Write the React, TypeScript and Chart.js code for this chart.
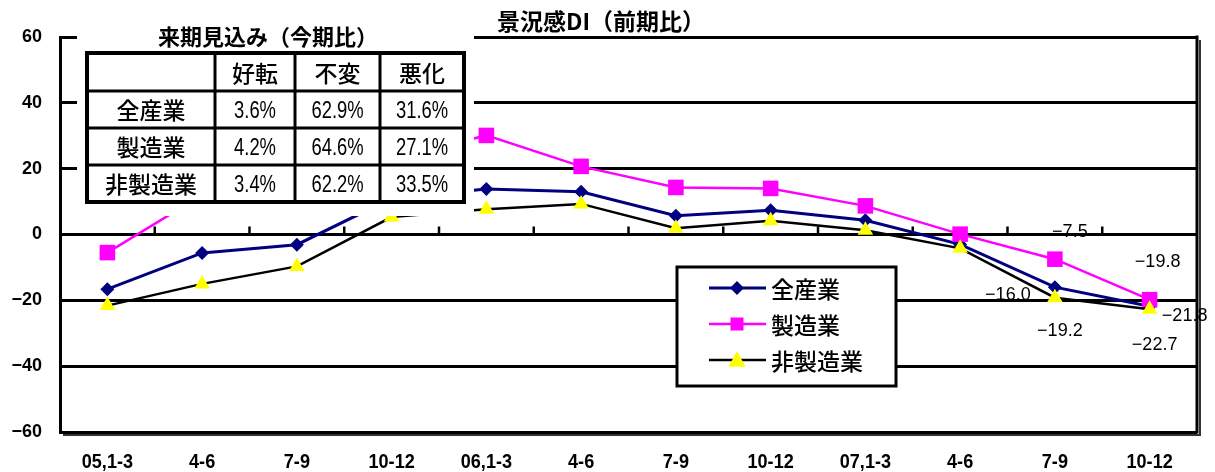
import React, { useEffect, useRef } from 'react';
import { Chart, registerables } from 'chart.js';

Chart.register(...registerables);

// ---- data ----
const categories = ['05,1-3', '4-6', '7-9', '10-12', '06,1-3', '4-6', '7-9', '10-12', '07,1-3', '4-6', '7-9', '10-12'];
const seriesNames = ['全産業', '製造業', '非製造業'];
const allIndustries = [-16.6, -5.6, -3.1, 11.0, 13.8, 13.0, 5.7, 7.4, 4.3, -3.0, -16.0, -21.8];
const manufacturing = [-5.5, 12.0, 17.0, 23.0, 30.1, 20.7, 14.3, 14.0, 8.7, 0.1, -7.5, -19.8];
const nonManufacturing = [-21.6, -15.0, -9.7, 5.3, 7.7, 9.3, 1.9, 4.2, 1.3, -4.2, -19.2, -22.7];
const yMin = -60;
const yMax = 60;
const yStep = 20;

const chartTitle = '景況感DI（前期比）';
const tableTitle = '来期見込み（今期比）';
const tableColumns = ['好転', '不変', '悪化'];
const tableRowNames = ['全産業', '製造業', '非製造業'];
const tableAll = [3.6, 62.9, 31.6];
const tableManufacturing = [4.2, 64.6, 27.1];
const tableNonManufacturing = [3.4, 62.2, 33.5];

const CJK = '"Noto Sans CJK JP", sans-serif';
const SANS = '"Liberation Sans", Arial, sans-serif';

const fmtNum = (v: number, d = 0) => (v < 0 ? '\u2212' + Math.abs(v).toFixed(d) : v.toFixed(d));

function narrowText(ctx: CanvasRenderingContext2D, text: string, x: number, y: number, sx: number) {
  ctx.save();
  ctx.translate(x, y);
  ctx.scale(sx, 1);
  ctx.fillText(text, 0, 0);
  ctx.restore();
}

function drawMarker(ctx: CanvasRenderingContext2D, style: string, x: number, y: number, r: number, color: string) {
  ctx.fillStyle = color;
  ctx.beginPath();
  if (style === 'rect') {
    ctx.rect(x - r, y - r, 2 * r, 2 * r);
  } else if (style === 'rectRot') {
    ctx.moveTo(x, y - r);
    ctx.lineTo(x + r, y);
    ctx.lineTo(x, y + r);
    ctx.lineTo(x - r, y);
    ctx.closePath();
  } else {
    ctx.moveTo(x, y - r);
    ctx.lineTo(x + r * 0.95, y + r * 0.75);
    ctx.lineTo(x - r * 0.95, y + r * 0.75);
    ctx.closePath();
  }
  ctx.fill();
}

const overlayPlugin = {
  id: 'overlay',
  beforeDatasetsDraw(chart: any) {
    const { ctx, chartArea, scales } = chart;
    const xs = scales.x;
    const ys = scales.y;
    const y0 = ys.getPixelForValue(0);
    ctx.save();
    ctx.strokeStyle = '#000';
    ctx.lineWidth = 2.5;
    for (let i = 1; i < categories.length; i++) {
      const px = (xs.getPixelForValue(i - 1) + xs.getPixelForValue(i)) / 2;
      ctx.beginPath();
      ctx.moveTo(px, y0);
      ctx.lineTo(px, y0 - 8);
      ctx.stroke();
    }
    // right frame + shadow
    ctx.lineWidth = 3;
    ctx.beginPath();
    ctx.moveTo(chartArea.right, chartArea.top - 1.5);
    ctx.lineTo(chartArea.right, chartArea.bottom + 1.5);
    ctx.stroke();
    ctx.strokeStyle = '#333';
    ctx.lineWidth = 2;
    ctx.beginPath();
    ctx.moveTo(chartArea.left + 3, chartArea.bottom + 3);
    ctx.lineTo(chartArea.right + 3, chartArea.bottom + 3);
    ctx.lineTo(chartArea.right + 3, chartArea.top + 3);
    ctx.stroke();
    ctx.restore();
  },
  afterDraw(chart: any) {
    const { ctx, scales } = chart;
    const xs = scales.x;
    const ys = scales.y;
    ctx.save();

    // condensed category labels
    ctx.fillStyle = '#000';
    ctx.font = 'bold 21px ' + SANS;
    ctx.textAlign = 'center';
    ctx.textBaseline = 'middle';
    categories.forEach((c, i) => {
      narrowText(ctx, c, xs.getPixelForValue(i), 462, 0.86);
    });

    // chart title
    ctx.font = 'bold 23px ' + CJK;
    ctx.textAlign = 'left';
    ctx.fillText(chartTitle, 497, 21);

    // table overlay
    ctx.fillStyle = '#fff';
    ctx.fillRect(77, 8, 397, 208);
    ctx.fillStyle = '#000';
    ctx.font = 'bold 22px ' + CJK;
    ctx.textAlign = 'center';
    ctx.fillText(tableTitle, 268, 37);

    const colX = [87, 215, 295, 380, 464];
    const rowY = [53, 91, 128, 165, 202];
    ctx.strokeStyle = '#000';
    ctx.lineWidth = 3;
    for (let i = 1; i < colX.length - 1; i++) {
      ctx.beginPath();
      ctx.moveTo(colX[i], rowY[0]);
      ctx.lineTo(colX[i], rowY[rowY.length - 1]);
      ctx.stroke();
    }
    for (let j = 1; j < rowY.length - 1; j++) {
      ctx.beginPath();
      ctx.moveTo(colX[0], rowY[j]);
      ctx.lineTo(colX[colX.length - 1], rowY[j]);
      ctx.stroke();
    }
    ctx.lineWidth = 4;
    ctx.strokeRect(colX[0], rowY[0], colX[colX.length - 1] - colX[0], rowY[rowY.length - 1] - rowY[0]);

    ctx.font = '500 23px ' + CJK;
    tableColumns.forEach((c, i) => {
      ctx.fillText(c, (colX[i + 1] + colX[i + 2]) / 2, (rowY[0] + rowY[1]) / 2 + 1);
    });
    const tableRows = [tableAll, tableManufacturing, tableNonManufacturing];
    tableRowNames.forEach((name, j) => {
      const cy = (rowY[j + 1] + rowY[j + 2]) / 2 + 1;
      ctx.font = '500 23px ' + CJK;
      ctx.fillText(name, (colX[0] + colX[1]) / 2, cy);
      ctx.font = '23px ' + SANS;
      tableRows[j].forEach((v, i) => {
        narrowText(ctx, v.toFixed(1) + '%', (colX[i + 1] + colX[i + 2]) / 2, cy + 1, 0.8);
      });
    });

    // legend
    const lx = 677, ly = 267, lw = 219, lh = 119;
    ctx.fillStyle = '#fff';
    ctx.fillRect(lx, ly, lw, lh);
    ctx.strokeStyle = '#000';
    ctx.lineWidth = 3;
    ctx.strokeRect(lx, ly, lw, lh);
    const rows = [288, 324, 360];
    chart.data.datasets.forEach((ds: any, i: number) => {
      const yy = rows[i];
      ctx.strokeStyle = ds.borderColor;
      ctx.lineWidth = ds.borderWidth;
      ctx.beginPath();
      ctx.moveTo(709, yy);
      ctx.lineTo(766, yy);
      ctx.stroke();
      const r = ds.pointStyle === 'rect' ? 6.5 : ds.pointStyle === 'rectRot' ? 7 : 9;
      drawMarker(ctx, ds.pointStyle, 737, yy, r, ds.pointBackgroundColor);
      ctx.fillStyle = '#000';
      ctx.font = '500 23px ' + CJK;
      ctx.textAlign = 'left';
      ctx.fillText(ds.label, 771, yy + 1);
    });

    // data labels
    const labelSpots = [
      { ds: 1, idx: 10, dx: 15, dy: -27 },
      { ds: 0, idx: 10, dx: -47, dy: 8 },
      { ds: 2, idx: 10, dx: 5, dy: 33 },
      { ds: 1, idx: 11, dx: 8, dy: -38 },
      { ds: 0, idx: 11, dx: 35, dy: 10 },
      { ds: 2, idx: 11, dx: 5, dy: 36 },
    ];
    ctx.fillStyle = '#000';
    ctx.font = '18px ' + SANS;
    ctx.textAlign = 'center';
    labelSpots.forEach((s) => {
      const v = chart.data.datasets[s.ds].data[s.idx];
      const px = xs.getPixelForValue(s.idx);
      const py = ys.getPixelForValue(v);
      ctx.fillText(fmtNum(v, 1), px + s.dx, py + s.dy);
    });
    ctx.restore();
  },
};

export default function App() {
  const ref = useRef<HTMLCanvasElement | null>(null);
  useEffect(() => {
    document.body.style.margin = '0';
    if (!ref.current) return;
    const chart = new Chart(ref.current, {
      type: 'line',
      data: {
        labels: categories,
        datasets: [
          {
            label: seriesNames[0],
            data: allIndustries,
            borderColor: '#000080',
            backgroundColor: '#000080',
            pointBackgroundColor: '#000080',
            pointBorderColor: '#000080',
            borderWidth: 3,
            pointStyle: 'rectRot',
            pointRadius: 7,
            pointBorderWidth: 0,
            tension: 0,
            order: 3,
          },
          {
            label: seriesNames[1],
            data: manufacturing,
            borderColor: '#ff00ff',
            backgroundColor: '#ff00ff',
            pointBackgroundColor: '#ff00ff',
            pointBorderColor: '#ff00ff',
            borderWidth: 2.5,
            pointStyle: 'rect',
            pointRadius: 11,
            pointBorderWidth: 0,
            tension: 0,
            order: 2,
          },
          {
            label: seriesNames[2],
            data: nonManufacturing,
            borderColor: '#000000',
            backgroundColor: '#ffff00',
            pointBackgroundColor: '#ffff00',
            pointBorderColor: '#ffff00',
            borderWidth: 2.5,
            pointStyle: 'triangle',
            pointRadius: 9,
            pointBorderWidth: 0,
            tension: 0,
            order: 1,
          },
        ],
      },
      options: {
        responsive: false,
        animation: false,
        devicePixelRatio: 1,
        layout: { padding: { top: 37, right: 18, left: 0, bottom: 0 } },
        plugins: {
          legend: { display: false },
          title: { display: false },
          tooltip: { enabled: false },
        },
        scales: {
          x: {
            type: 'category',
            offset: true,
            grid: { display: false, drawTicks: false },
            border: { display: false },
            ticks: {
              color: 'rgba(0,0,0,0)',
              font: { family: SANS, size: 20, weight: 'bold' },
              padding: 18,
              maxRotation: 0,
              autoSkip: false,
            },
            afterFit: (s: any) => {
              s.height = 40;
            },
          },
          y: {
            min: yMin,
            max: yMax,
            ticks: {
              stepSize: yStep,
              color: '#000',
              font: { family: SANS, size: 18, weight: 'bold' },
              padding: 18,
              callback: (v: any) => fmtNum(Number(v)),
            },
            grid: { color: '#000', lineWidth: 3, drawTicks: false },
            border: { display: true, color: '#000', width: 3 },
            afterFit: (s: any) => {
              s.width = 60;
            },
          },
        },
      },
      plugins: [overlayPlugin],
    });
    return () => chart.destroy();
  }, []);
  return <canvas ref={ref} width={1215} height={472} style={{ display: 'block' }} />;
}
